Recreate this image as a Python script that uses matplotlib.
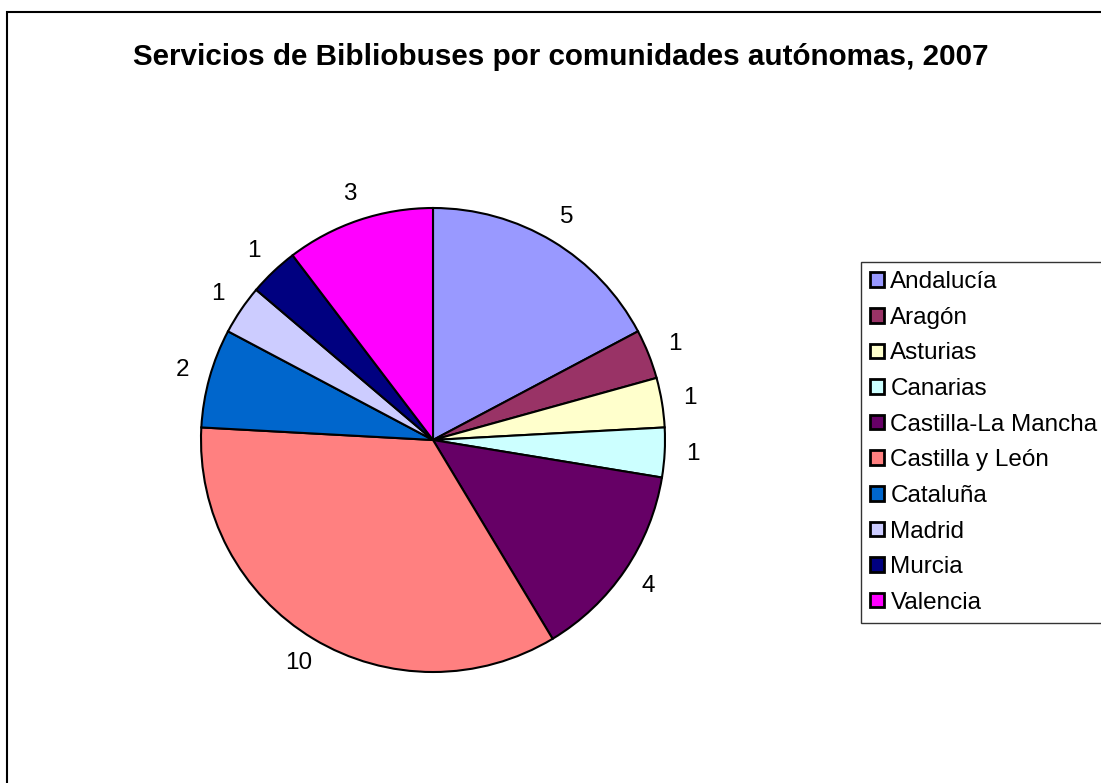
import matplotlib.pyplot as plt
from matplotlib.patches import Rectangle, Patch

# datos
comunidades = ["Andalucía", "Aragón", "Asturias", "Canarias", "Castilla-La Mancha",
               "Castilla y León", "Cataluña", "Madrid", "Murcia", "Valencia"]
servicios = [5, 1, 1, 1, 4, 10, 2, 1, 1, 3]
colores = ["#9999FF", "#993366", "#FFFFCC", "#CCFFFF", "#660066",
           "#FF8080", "#0066CC", "#CCCCFF", "#000080", "#FF00FF"]

W, H = 1101, 783
fig = plt.figure(figsize=(W / 100, H / 100), dpi=100)
plt.rcParams['font.family'] = ['Liberation Sans', 'DejaVu Sans']

# marco del gráfico
fig.patches.append(Rectangle((7 / W, -0.1), 1.2, 1 - 12 / H + 0.1, transform=fig.transFigure,
                             fill=False, edgecolor='black', linewidth=1.5))

fig.text(561 / W, 1 - 57 / H, "Servicios de Bibliobuses por comunidades autónomas, 2007",
         ha='center', va='center', fontsize=21.3, fontweight='bold')

cx, cy, r = 433, 440, 232
ax = fig.add_axes([(cx - r) / W, (H - cy - r) / H, 2 * r / W, 2 * r / H])
wedges, texts = ax.pie(servicios, labels=[str(v) for v in servicios], colors=colores,
                       startangle=90, counterclock=False, labeldistance=1.12,
                       wedgeprops=dict(edgecolor='black', linewidth=1.5),
                       textprops=dict(fontsize=17.5))
for t in texts:
    t.set_ha('center')
ax.set_xlim(-1, 1)
ax.set_ylim(-1, 1)
ax.axis('off')

handles = [Patch(facecolor=c, edgecolor='black', linewidth=2) for c in colores]
leg = fig.legend(handles, comunidades, loc='upper left', bbox_to_anchor=(861 / W, 1 - 262 / H),
                 frameon=True, fancybox=False, edgecolor='black', fontsize=17.5,
                 handlelength=0.55, handleheight=0.55, handletextpad=0.28,
                 labelspacing=0.56, borderaxespad=0, borderpad=0.38)
leg.get_frame().set_linewidth(1.0)

fig.savefig("out.png", dpi=100)
